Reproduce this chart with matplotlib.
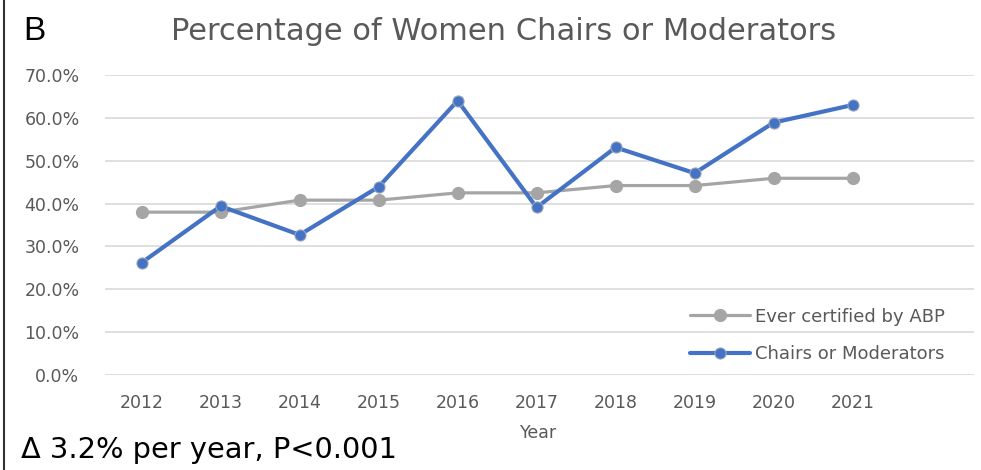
import matplotlib
matplotlib.use("Agg")
import matplotlib.pyplot as plt
from matplotlib.lines import Line2D

years = [2012, 2013, 2014, 2015, 2016, 2017, 2018, 2019, 2020, 2021]
ever_certified = [38.0, 38.0, 40.8, 40.8, 42.5, 42.5, 44.2, 44.2, 45.9, 45.9]
chairs_moderators = [26.2, 39.4, 32.7, 43.9, 64.0, 39.1, 53.1, 47.1, 58.9, 63.0]
yticks = [0, 10, 20, 30, 40, 50, 60, 70]
series_labels = ["Ever certified by ABP", "Chairs or Moderators"]

plt.rcParams['font.family'] = ['DejaVu Sans']

fig = plt.figure(figsize=(9.81, 4.70), dpi=100)
ax = fig.add_axes([104.5 / 981, 1 - 375 / 470, 869 / 981, 300 / 470])

gray = "#A5A5A5"
blue = "#4472C4"
text_gray = "#595959"

ax.plot(years, ever_certified, color=gray, lw=2.3, marker='o', ms=8.5,
        mfc=gray, mec=gray, label=series_labels[0], zorder=3, solid_capstyle='round')
ax.plot(years, chairs_moderators, color=blue, lw=3.0, marker='o', ms=8,
        mfc=blue, mec="#9aa6b8", mew=0.8, label=series_labels[1], zorder=4, solid_capstyle='round')

ax.set_xlim(2011.53, 2022.53)
ax.set_ylim(0, 70)
ax.set_yticks(yticks)
ax.set_yticklabels([f"{v:.1f}%" for v in yticks])
ax.set_xticks(years)
ax.set_xticklabels([str(y) for y in years])

ax.grid(axis='y', color='#d9d9d9', lw=1.2)
ax.set_axisbelow(True)
for s in ax.spines.values():
    s.set_visible(False)
ax.tick_params(axis='both', length=0, labelsize=12.5, labelcolor=text_gray)
ax.tick_params(axis='y', pad=18)
ax.tick_params(axis='x', pad=14)

ax.set_xlabel("Year", fontsize=12.5, color=text_gray, labelpad=8)

leg = ax.legend(loc='upper left', bbox_to_anchor=(0.674, 0.225), frameon=False,
                fontsize=13, handlelength=3.3, handletextpad=0.3,
                labelspacing=1.1, borderaxespad=0, borderpad=0)
for t in leg.get_texts():
    t.set_color(text_gray)

fig.text(504 / 981, 1 - 31 / 470, "Percentage of Women Chairs or Moderators",
         ha='center', va='center', fontsize=22, color=text_gray)
fig.text(23 / 981, 1 - 31 / 470, "B", ha='left', va='center', fontsize=24,
         color='black', family=['Liberation Sans', 'DejaVu Sans'])
fig.text(21 / 981, 1 - 450 / 470, "Δ 3.2% per year, P<0.001", ha='left', va='center',
         fontsize=20.8, color='black')

fig.add_artist(Line2D([4 / 981, 4 / 981], [0, 1], transform=fig.transFigure,
                      color='#333333', lw=1.5))

fig.savefig("out.png", dpi=100)
